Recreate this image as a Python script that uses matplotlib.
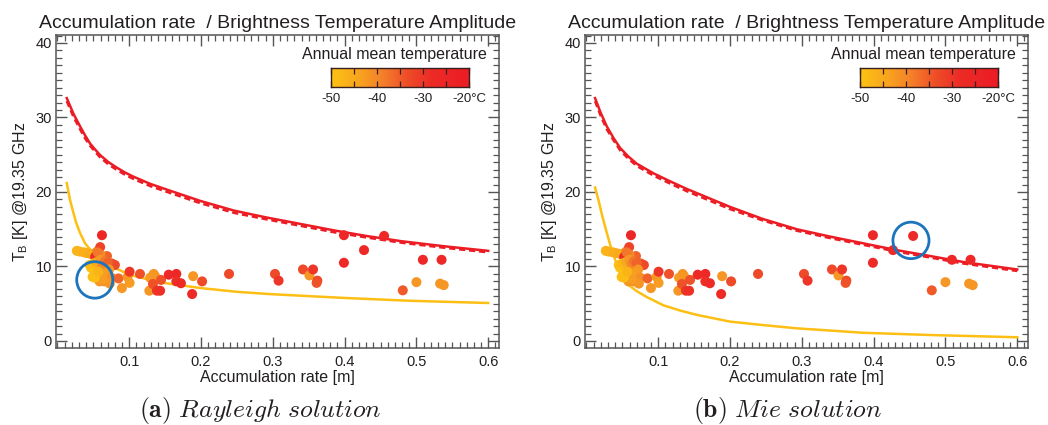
import numpy as np
import matplotlib
matplotlib.use("Agg")
import matplotlib.pyplot as plt
from matplotlib.colors import LinearSegmentedColormap, Normalize
from matplotlib.patches import Ellipse
from matplotlib.ticker import MultipleLocator, FixedLocator

plt.rcParams['font.family'] = ['Liberation Sans', 'DejaVu Sans']

# ---- station observations (shared by both panels) ----
acc = [0.027, 0.031, 0.037, 0.041, 0.046, 0.051, 0.055,
       0.062, 0.0595, 0.0525, 0.069, 0.0758, 0.080, 0.060, 0.056,
       0.047, 0.054, 0.0575, 0.049, 0.056, 0.062, 0.0586, 0.0655, 0.070,
       0.045, 0.050, 0.055, 0.060, 0.063, 0.066, 0.070, 0.072, 0.068,
       0.075, 0.073, 0.063, 0.052, 0.057,
       0.085, 0.0898, 0.0977, 0.1005, 0.1005, 0.115, 0.129, 0.134, 0.136,
       0.128, 0.133, 0.1386, 0.143, 0.1443, 0.155, 0.1656, 0.1656, 0.172,
       0.1876, 0.189, 0.2015, 0.239, 0.303, 0.308, 0.342, 0.351, 0.356,
       0.362, 0.361, 0.399, 0.399, 0.427, 0.455, 0.481, 0.500, 0.509,
       0.535, 0.533, 0.538]
tb_amp = [12.1, 12.0, 11.9, 11.8, 11.7, 11.7, 12.0,
          14.2, 12.6, 11.3, 11.4, 10.4, 10.2, 11.6, 11.9,
          9.8, 9.9, 9.6, 8.6, 8.8, 9.0, 8.0, 8.0, 8.2,
          10.2, 10.4, 10.6, 10.9, 10.3, 10.7, 10.5, 9.6, 9.1,
          8.5, 7.7, 8.3, 8.5, 9.3,
          8.4, 7.1, 8.6, 9.3, 7.8, 9.0, 8.5, 9.0, 8.7,
          6.75, 7.65, 6.75, 6.75, 8.2, 8.9, 9.0, 8.0, 7.75,
          6.3, 8.7, 8.0, 9.0, 9.0, 8.1, 9.6, 8.8, 9.6,
          8.1, 7.8, 14.2, 10.5, 12.2, 14.1, 6.8, 7.9, 10.9,
          10.9, 7.7, 7.5]
temp = [-47, -47, -46, -46, -45, -47, -42,
        -26, -32, -28, -36, -34, -33, -40, -38,
        -50, -49, -48, -49, -47, -41, -42, -41, -42,
        -49, -48, -45, -42, -40, -38, -36, -42, -43,
        -41, -42, -43, -49, -47,
        -36, -42, -42, -30, -43, -34, -43, -42, -42,
        -42, -34, -30, -29, -34, -28, -27, -29, -28,
        -28, -42, -33, -33, -33, -30, -33, -42, -30,
        -33, -34, -27, -28, -27, -27, -35, -42, -27,
        -27, -42, -42]

# ---- model curves ----
# Rayleigh panel
ray_red_x = [0.013, 0.0223, 0.0316, 0.0385, 0.0455, 0.0525, 0.0595, 0.0711,
             0.083, 0.0944, 0.106, 0.129, 0.153, 0.199, 0.246, 0.290, 0.339,
             0.385, 0.430, 0.4785, 0.540, 0.600]
ray_red_y = [32.6, 30.5, 28.8, 27.6, 26.5, 25.7, 24.95, 24.0,
             23.25, 22.6, 22.05, 21.1, 20.3, 18.8, 17.5, 16.6, 15.7,
             14.85, 14.1, 13.4, 12.7, 12.1]
ray_red_dash_y = [32.2, 30.1, 28.4, 27.2, 26.2, 25.4, 24.65, 23.7,
                  22.95, 22.3, 21.75, 20.8, 20.0, 18.5, 17.2, 16.35, 15.45,
                  14.6, 13.9, 13.2, 12.5, 11.9]
ray_yel_x = [0.013, 0.0176, 0.022, 0.026, 0.0315, 0.0385, 0.048, 0.0595,
             0.078, 0.100, 0.129, 0.148, 0.200, 0.250, 0.295, 0.395,
             0.490, 0.600]
ray_yel_y = [21.2, 18.9, 17.3, 15.9, 14.5, 13.1, 12.0, 10.9,
             9.9, 8.9, 8.2, 7.8, 7.1, 6.6, 6.3, 5.8,
             5.4, 5.1]
# Mie panel
mie_red_x = [0.012, 0.020, 0.0284, 0.038, 0.047, 0.058, 0.070, 0.0935,
             0.115, 0.140, 0.170, 0.200, 0.245, 0.293, 0.340, 0.386,
             0.432, 0.479, 0.525, 0.600]
mie_red_y = [32.6, 30.6, 28.8, 27.2, 25.9, 24.8, 23.8, 22.5,
             21.5, 20.4, 19.2, 18.0, 16.4, 15.0, 14.0, 13.1,
             12.2, 11.4, 10.6, 9.6]
mie_red_dash_y = [32.2, 30.2, 28.4, 26.9, 25.6, 24.5, 23.5, 22.2,
                  21.2, 20.1, 18.9, 17.7, 16.2, 14.8, 13.8, 12.9,
                  12.0, 11.2, 10.4, 9.4]
mie_yel_x = [0.012, 0.0168, 0.022, 0.0284, 0.034, 0.040, 0.047, 0.0563,
             0.070, 0.084, 0.107, 0.130, 0.154, 0.200, 0.250, 0.293,
             0.386, 0.480, 0.600]
mie_yel_y = [20.6, 18.9, 16.8, 14.5, 12.6, 10.9, 9.2, 7.7,
             6.7, 5.9, 4.8, 4.1, 3.5, 2.6, 2.1, 1.7,
             1.1, 0.8, 0.5]

# highlighted stations (centre of the ring)
ring_a = (0.052, 8.2)
ring_b = (0.452, 13.5)

cbar_ticks = [-50, -40, -30, -20]
cbar_labels = ['-50', '-40', '-30', '-20°C']
captions = [r'$\mathbf{(a)}\ \mathit{Rayleigh\ solution}$',
            r'$\mathbf{(b)}\ \mathit{Mie\ solution}$']

cmap = LinearSegmentedColormap.from_list(
    'tmean', [(0.0, '#FDC312'), (0.2, '#F8A41F'), (0.36, '#F4822A'),
              (0.55, '#EE4D28'), (0.72, '#ED2B26'), (1.0, '#EC1C24')])
norm = Normalize(-50, -20)

RED = '#EC1C24'
YEL = '#FDBF14'
INK = '#231F20'
SPINE = '#555555'

fig = plt.figure(figsize=(10.48, 4.25), dpi=100)
W, H = 1048, 425
panels = [
    dict(left=56, rx=ray_red_x, ry=ray_red_y, rdy=ray_red_dash_y,
         yx=ray_yel_x, yy=ray_yel_y, ring=ring_a, cap_x=260),
    dict(left=585, rx=mie_red_x, ry=mie_red_y, rdy=mie_red_dash_y,
         yx=mie_yel_x, yy=mie_yel_y, ring=ring_b, cap_x=788),
]

for i, p in enumerate(panels):
    ax = fig.add_axes([p['left'] / W, (H - 348) / H, 443 / W, 313 / H])
    ax.set_xlim(-0.002, 0.615)
    ax.set_ylim(-0.94, 41.07)

    ax.plot(p['yx'], p['yy'], color=YEL, lw=1.8, zorder=2,
            solid_joinstyle='round')
    ax.plot(p['rx'], p['rdy'], color=RED, lw=1.8, ls=(0, (2.5, 1.5)), zorder=2)
    ax.plot(p['rx'], p['ry'], color=RED, lw=1.8, zorder=2,
            solid_joinstyle='round')

    ax.scatter(acc, tb_amp, c=temp, cmap=cmap, norm=norm, s=52,
               linewidths=0, zorder=3)

    ell = Ellipse(p['ring'], width=36 / 716, height=36.5 / 7.45, fill=False,
                  edgecolor='#1C75BC', lw=2.0, zorder=4)
    ax.add_patch(ell)

    ax.xaxis.set_major_locator(FixedLocator([0.1, 0.2, 0.3, 0.4, 0.5, 0.6]))
    ax.xaxis.set_minor_locator(MultipleLocator(0.01))
    ax.yaxis.set_major_locator(MultipleLocator(10))
    ax.yaxis.set_minor_locator(MultipleLocator(1))
    ax.tick_params(which='both', direction='in', top=True, right=True,
                   color=SPINE, labelcolor=INK, labelsize=10.5)
    ax.tick_params(which='major', length=8, width=1.0)
    ax.tick_params(which='minor', length=4, width=0.9)
    ax.tick_params(axis='x', pad=5)
    ax.tick_params(axis='y', pad=3)
    for s in ax.spines.values():
        s.set_color(SPINE)
        s.set_linewidth(1.1)

    ax.set_xlabel('Accumulation rate [m]', fontsize=11.5, color=INK, labelpad=1)
    ax.set_ylabel(r'T$_\mathregular{B}$ [K] @19.35 GHz', fontsize=11.5,
                  color=INK, labelpad=4)
    ax.set_title('Accumulation rate  / Brightness Temperature Amplitude',
                 fontsize=14.0, color=INK, pad=5)

    # colour bar for annual mean temperature
    cax = ax.inset_axes([0.62, 0.834, 0.312, 0.061])
    grad = np.linspace(-50, -20, 256).reshape(1, -1)
    cax.imshow(grad, cmap=cmap, norm=norm, aspect='auto',
               extent=[-50, -20, 0, 1])
    cax.set_xlim(-50, -20)
    cax.set_ylim(0, 1)
    cax.set_yticks([])
    cax.set_xticks(cbar_ticks)
    cax.set_xticklabels(cbar_labels)
    cax.xaxis.set_minor_locator(MultipleLocator(5))
    cax.tick_params(axis='x', which='both', direction='in', top=True,
                    length=4, width=0.9, color='#3A1F1F', labelsize=9.5,
                    labelcolor=INK, pad=4)
    for s in cax.spines.values():
        s.set_color('#3A1F1F')
        s.set_linewidth(1.0)
    ax.text(0.765, 0.937, 'Annual mean temperature', transform=ax.transAxes,
            ha='center', va='center', fontsize=11.5, color=INK)

    fig.text(p['cap_x'] / W, 1 - 410 / H, captions[i], ha='center',
             va='center', fontsize=18.5, color=INK, math_fontfamily='cm')

fig.savefig('out.png', dpi=100)
